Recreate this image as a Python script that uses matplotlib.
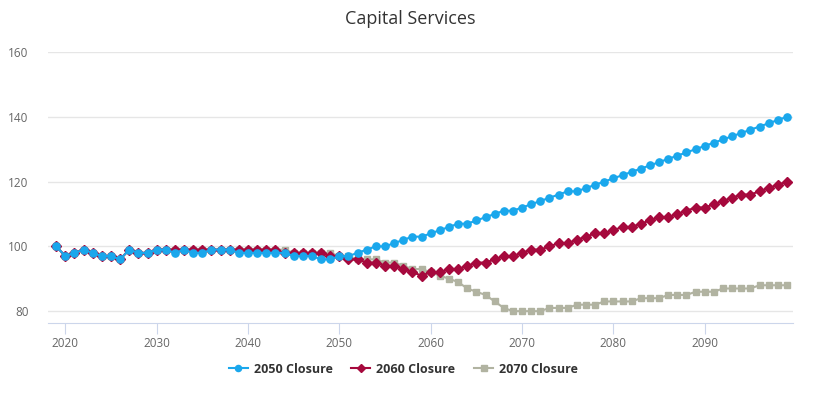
import numpy as np
import matplotlib.pyplot as plt

years = np.arange(2019, 2100)

closure_2050 = [100, 97, 98, 99, 98, 97, 97, 96, 99, 98,
                98, 99, 99, 98, 99, 98, 98, 99, 99, 99,
                98, 98, 98, 98, 98, 98, 97, 97, 97, 96,
                96, 97, 97, 98, 99, 100, 100, 101, 102, 103,
                103, 104, 105, 106, 107, 107, 108, 109, 110, 111,
                111, 112, 113, 114, 115, 116, 117, 117, 118, 119,
                120, 121, 122, 123, 124, 125, 126, 127, 128, 129,
                130, 131, 132, 133, 134, 135, 136, 137, 138, 139,
                140]

closure_2060 = [100, 97, 98, 99, 98, 97, 97, 96, 99, 98,
                98, 99, 99, 99, 99, 99, 99, 99, 99, 99,
                99, 99, 99, 99, 99, 98, 98, 98, 98, 98,
                97, 97, 96, 96, 95, 95, 94, 94, 93, 92,
                91, 92, 92, 93, 93, 94, 95, 95, 96, 97,
                97, 98, 99, 99, 100, 101, 101, 102, 103, 104,
                104, 105, 106, 106, 107, 108, 109, 109, 110, 111,
                112, 112, 113, 114, 115, 116, 116, 117, 118, 119,
                120]

closure_2070 = [100, 97, 98, 99, 98, 97, 97, 96, 99, 98,
                98, 99, 99, 99, 99, 99, 99, 99, 99, 99,
                99, 99, 99, 99, 99, 99, 98, 98, 98, 98,
                98, 97, 97, 96, 96, 96, 95, 95, 94, 93,
                93, 92, 91, 90, 89, 87, 86, 85, 83, 81,
                80, 80, 80, 80, 81, 81, 81, 82, 82, 82,
                83, 83, 83, 83, 84, 84, 84, 85, 85, 85,
                86, 86, 86, 87, 87, 87, 87, 88, 88, 88,
                88]

plt.rcParams['font.family'] = ['Open Sans', 'DejaVu Sans']

fig = plt.figure(figsize=(8.2, 3.97), dpi=100)
ax = fig.add_axes([0.0585, 0.186, 0.909, 0.683])

ax.plot(years, closure_2070, color='#b1b3a1', lw=1.5, marker='s', ms=4.8,
        label='2070 Closure', zorder=3)
ax.plot(years, closure_2060, color='#a6093d', lw=1.5, marker='D', ms=4.6,
        label='2060 Closure', zorder=4)
ax.plot(years, closure_2050, color='#1aa7ec', lw=1.5, marker='o', ms=5.2,
        label='2050 Closure', zorder=5)

ax.set_xlim(2018.1, 2099.7)
ax.set_ylim(76.3, 160)
ax.set_yticks([80, 100, 120, 140, 160])
ax.set_xticks(np.arange(2020, 2100, 10))
ax.grid(axis='y', color='#e6e6e6', lw=1)
ax.set_axisbelow(True)
for s in ['top', 'right', 'left']:
    ax.spines[s].set_visible(False)
ax.spines['bottom'].set_color('#ccd6eb')
ax.tick_params(axis='y', length=0, pad=14, labelsize=8.5, labelcolor='#666666')
ax.tick_params(axis='x', length=8, color='#ccd6eb', labelsize=8.5,
               labelcolor='#666666', pad=2)

fig.suptitle('Capital Services', y=0.975, fontsize=13, color='#333333')

handles, labels = ax.get_legend_handles_labels()
leg = fig.legend(handles[::-1], labels[::-1], loc='center', ncol=3,
                 bbox_to_anchor=(0.492, 0.07), frameon=False,
                 prop={'weight': 'bold', 'size': 9}, handlelength=1.5,
                 columnspacing=1.5, handletextpad=0.5, markerscale=0.85)
for t in leg.get_texts():
    t.set_color('#333333')

fig.savefig('out.png', dpi=100)
